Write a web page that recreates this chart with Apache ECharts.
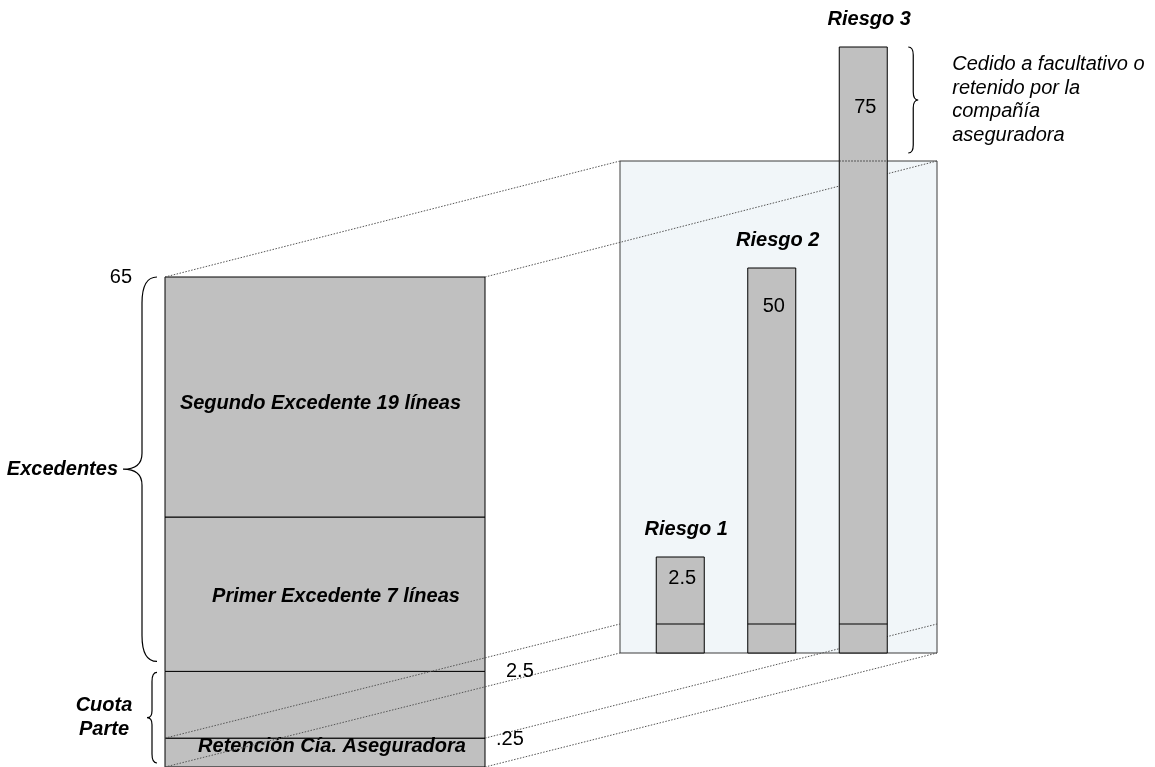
<!DOCTYPE html>
<html>
<head>
<meta charset="utf-8">
<script src="https://cdn.jsdelivr.net/npm/echarts@6/dist/echarts.min.js"></script>
<style>
  html, body { margin: 0; padding: 0; background: #ffffff; }
  #chart { width: 1155px; height: 767px; }
</style>
</head>
<body>
<div id="chart"></div>
<script>
// Programa de reaseguro: capas de la cobertura (millones)
const layerNames = ['Retención Cía. Aseguradora', '', 'Primer Excedente 7 líneas', 'Segundo Excedente 19 líneas'];
const layerBounds = [0, 0.25, 2.5, 20, 65];
const boundaryValues = [0.25, 2.5, 65];
const boundaryLabels = ['.25', '2.5', '65'];
const groupNames = ['Excedentes', 'Cuota\nParte'];
const groupRanges = [[2.5, 65], [0, 2.5]];

// Riesgos suscritos
const riskNames = ['Riesgo 1', 'Riesgo 2', 'Riesgo 3'];
const riskValues = [2.5, 50, 75];
const riskLabels = ['2.5', '50', '75'];
const retentionValue = 0.25;
const excessNote = 'Cedido a facultativo o\nretenido por la\ncompañía\naseguradora';

// Escala vertical esquemática (no proporcional): valor -> nivel dibujado
const scaleValues = [0, 0.25, 2.5, 20, 50, 65, 75];
const scaleLevels = [0, 29, 96, 251, 385, 492, 606];

function level(v) {
  for (let i = 1; i < scaleValues.length; i++) {
    if (v <= scaleValues[i]) {
      const t = (v - scaleValues[i - 1]) / (scaleValues[i] - scaleValues[i - 1]);
      return scaleLevels[i - 1] + t * (scaleLevels[i] - scaleLevels[i - 1]);
    }
  }
  return scaleLevels[scaleLevels.length - 1];
}

// Estilos y ajustes de maquetación
const FAMILY = '"Liberation Sans", Arial, sans-serif';
const BOLD = 'italic bold 20px ' + FAMILY;
const PLAIN = '20px ' + FAMILY;
const NOTE = 'italic 20px ' + FAMILY;
const GREY = '#C0C0C0';
const BAR_W = 48;
const layerLabelShift = [[7, -6], [0, 0], [11, 2], [-4.5, 6.5]];
const boundaryLabelLayout = [
  { align: 'left', dx: 11, dy: 1 },
  { align: 'left', dx: 21, dy: 0 },
  { align: 'right', dx: -33, dy: 0 }
];
const valueLabelDrop = [21, 38, 60];
const braceGeom = [
  { end: -8, spine: -23, tip: -42, insetTop: 0, insetBot: 10, rEnd: 26, rTip: 16 },
  { end: -8, spine: -13, tip: -18, insetTop: 1, insetBot: 4, rEnd: 9, rTip: 7 }
];
const braceStyle = { fill: 'none', stroke: '#000', lineWidth: 1.2 };
const topLevel = level(layerBounds[layerBounds.length - 1]);

function bracePath(xEnd, xSpine, xTip, y1, y2, rEnd, rTip) {
  const ym = (y1 + y2) / 2;
  return 'M' + xEnd + ' ' + y1 +
    ' Q' + xSpine + ' ' + y1 + ' ' + xSpine + ' ' + (y1 + rEnd) +
    ' L' + xSpine + ' ' + (ym - rTip) +
    ' Q' + xSpine + ' ' + ym + ' ' + xTip + ' ' + ym +
    ' Q' + xSpine + ' ' + ym + ' ' + xSpine + ' ' + (ym + rTip) +
    ' L' + xSpine + ' ' + (y2 - rEnd) +
    ' Q' + xSpine + ' ' + y2 + ' ' + xEnd + ' ' + y2;
}

function textEl(text, x, y, font, align, extra) {
  return {
    type: 'text', z2: 5,
    style: Object.assign({
      text: text, x: x, y: y, font: font, fill: '#000',
      align: align, verticalAlign: 'middle',
      textAlign: align, textVerticalAlign: 'middle'
    }, extra || {})
  };
}

const chart = echarts.init(document.getElementById('chart'), null, { renderer: 'canvas' });

const hiddenValueAxis = (g, max) => ({
  type: 'value', gridIndex: g, min: 0, max: max, show: false,
  splitLine: { show: false }
});

const option = {
  animation: false,
  backgroundColor: '#ffffff',
  grid: [
    { left: 165, top: 277, width: 320, height: topLevel, show: false },
    { left: 620, top: 161, width: 317, height: topLevel, show: true,
      backgroundColor: '#F1F6F9', borderColor: '#3C3C3C', borderWidth: 1 },
    { left: 634.5, top: 161, width: 274.5, height: topLevel, show: false }
  ],
  xAxis: [
    hiddenValueAxis(0, 1),
    hiddenValueAxis(1, 1),
    { type: 'category', gridIndex: 2, data: riskNames, show: false }
  ],
  yAxis: [
    hiddenValueAxis(0, topLevel),
    hiddenValueAxis(1, topLevel),
    hiddenValueAxis(2, topLevel)
  ],
  series: [
    {
      // Columna de capas del programa
      type: 'custom', xAxisIndex: 0, yAxisIndex: 0, z: 1, clip: false,
      data: layerNames.map((_, i) => [0, level(layerBounds[i + 1])]),
      renderItem: (params, api) => {
        const i = params.dataIndex;
        const a = api.coord([0, level(layerBounds[i])]);
        const b = api.coord([1, level(layerBounds[i + 1])]);
        const children = [{
          type: 'rect',
          shape: { x: a[0], y: b[1], width: b[0] - a[0], height: a[1] - b[1] },
          style: { fill: GREY, stroke: '#000', lineWidth: 1 }
        }];
        if (layerNames[i]) {
          children.push(textEl(layerNames[i],
            (a[0] + b[0]) / 2 + layerLabelShift[i][0],
            (a[1] + b[1]) / 2 + layerLabelShift[i][1], BOLD, 'center'));
        }
        return { type: 'group', children };
      }
    },
    {
      // Límites de las capas
      type: 'custom', xAxisIndex: 0, yAxisIndex: 0, z: 8, clip: false,
      data: boundaryValues.map(v => [0, level(v)]),
      renderItem: (params, api) => {
        const i = params.dataIndex;
        const L = boundaryLabelLayout[i];
        const p = api.coord([L.align === 'left' ? 1 : 0, level(boundaryValues[i])]);
        return textEl(boundaryLabels[i], p[0] + L.dx, p[1] + L.dy, PLAIN, L.align);
      }
    },
    {
      // Llaves de los grupos de capas
      type: 'custom', xAxisIndex: 0, yAxisIndex: 0, z: 8, clip: false,
      data: groupRanges.map(r => [0, level(r[1])]),
      renderItem: (params, api) => {
        const i = params.dataIndex;
        const G = braceGeom[i];
        const top = api.coord([0, level(groupRanges[i][1])]);
        const bot = api.coord([0, level(groupRanges[i][0])]);
        const x = top[0];
        const y1 = top[1] + G.insetTop;
        const y2 = bot[1] - G.insetBot;
        const ym = (y1 + y2) / 2;
        const multi = groupNames[i].indexOf('\n') >= 0;
        return {
          type: 'group',
          children: [
            { type: 'path',
              shape: { pathData: bracePath(x + G.end, x + G.spine, x + G.tip, y1, y2, G.rEnd, G.rTip) },
              style: braceStyle },
            textEl(groupNames[i], multi ? x + G.tip - 43 : x + G.tip - 5, ym, BOLD,
              multi ? 'center' : 'right', { lineHeight: 24 })
          ]
        };
      }
    },
    {
      // Barras de los riesgos
      type: 'custom', xAxisIndex: 2, yAxisIndex: 2, z: 10, clip: false,
      data: riskValues.map((v, i) => [i, level(v)]),
      renderItem: (params, api) => {
        const i = params.dataIndex;
        const v = riskValues[i];
        const top = api.coord([i, level(v)]);
        const base = api.coord([i, 0]);
        const ret = api.coord([i, level(retentionValue)]);
        const x0 = top[0] - BAR_W / 2;
        const children = [
          { type: 'rect', shape: { x: x0, y: top[1], width: BAR_W, height: base[1] - top[1] },
            style: { fill: GREY, stroke: '#000', lineWidth: 1 } },
          { type: 'line', shape: { x1: x0, y1: ret[1], x2: x0 + BAR_W, y2: ret[1] },
            style: { stroke: '#000', lineWidth: 1 } },
          textEl(riskNames[i], top[0] + 6, top[1] - 28, BOLD, 'center'),
          textEl(riskLabels[i], top[0] + 2, top[1] + valueLabelDrop[i], PLAIN, 'center')
        ];
        if (level(v) > topLevel) {
          // Tramo que excede el programa: borde del panel punteado sobre la barra
          const edge = api.coord([i, topLevel]);
          children.push({
            type: 'line', shape: { x1: x0, y1: edge[1], x2: x0 + BAR_W, y2: edge[1] },
            style: { stroke: '#333', lineWidth: 1, lineDash: [1.5, 1.5] }
          });
          const bx = top[0] + 45;
          const by1 = top[1];
          const by2 = edge[1] - 8;
          children.push({
            type: 'path',
            shape: { pathData: bracePath(bx, bx + 5, bx + 10, by1, by2, 8, 8) },
            style: braceStyle
          });
          children.push(textEl(excessNote, bx + 44, (by1 + by2) / 2, NOTE, 'left', { lineHeight: 23.5 }));
        }
        return { type: 'group', children };
      }
    }
  ]
};

chart.setOption(option);

// Líneas de proyección de la columna sobre el panel de riesgos
const px = (g, x, v) => chart.convertToPixel({ gridIndex: g }, [x, level(v)]);
const elements = [];
const projected = [0, retentionValue, layerBounds[layerBounds.length - 1]];
projected.forEach(v => {
  [0, 1].forEach(x => {
    const p = px(0, x, v);
    const q = px(1, x, v);
    elements.push({
      type: 'line', z: 5,
      shape: { x1: p[0], y1: p[1], x2: q[0], y2: q[1] },
      style: { stroke: '#555', lineWidth: 1, lineDash: [1.5, 1.5] }
    });
  });
});
chart.setOption({ graphic: { elements: elements } });
</script>
</body>
</html>
